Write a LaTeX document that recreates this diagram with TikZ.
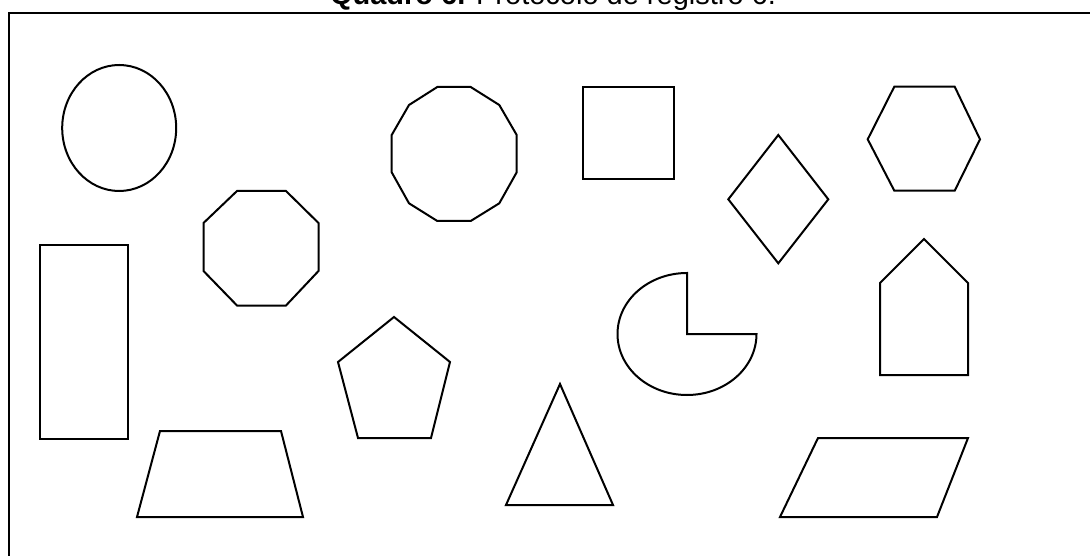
\documentclass[tikz,border=0pt]{standalone}
\usepackage{fontspec}
\setmainfont{Liberation Sans}
\begin{document}
\begin{tikzpicture}[x=1pt,y=-1pt,
  shp/.style={draw=black,line width=2pt,line join=miter},
  frame/.style={draw=black,line width=2pt}]
\useasboundingbox (0,0) rectangle (1090,556);
% title (cut off at top, as in the reference)
\node[anchor=base,font=\fontsize{29}{30}\selectfont,inner sep=0pt] (title) at (553,5) {\textbf{Quadro 6.} Protocolo de registro 6.};
% frame
\draw[frame] (9,600) -- (9,13) -- (1100,13);
% ellipse
\draw[shp] (119.2,128) ellipse [x radius=57,y radius=63];
% tall rectangle
\draw[shp] (40,245.3) rectangle (127.7,439.3);
% octagon
\draw[shp] (237,191) -- (286,191) -- (318.5,223) -- (318.5,271) -- (286,305.5) -- (237,305.5) -- (203.5,271) -- (203.5,223) -- cycle;
% dodecagon
\draw[shp] (437.3,87) -- (470.7,87) -- (499.3,105) -- (516.7,135) -- (516.7,172.3) -- (499.3,203.3) -- (470.7,221) -- (437.3,221) -- (409,203.3) -- (391.7,172.3) -- (391.7,135) -- (409,105) -- cycle;
% square
\draw[shp] (582.7,87.3) rectangle (674.3,178.7);
% diamond
\draw[shp] (778.3,135) -- (828.3,199.3) -- (778.3,263.3) -- (728.3,199.3) -- cycle;
% hexagon
\draw[shp] (894.3,86.7) -- (954.7,86.7) -- (980,139.3) -- (954.7,190.7) -- (894.3,190.7) -- (867.7,139.3) -- cycle;
% pentagon
\draw[shp] (394,317) -- (450,362) -- (431,438) -- (358,438) -- (338,362) -- cycle;
% triangle
\draw[shp] (560,384) -- (613,505) -- (506,505) -- cycle;
% pacman (three-quarter ellipse, upper-right quadrant missing)
\draw[shp] (687,334) -- (687,273) arc[start angle=-90,end angle=-360,x radius=69.5,y radius=61] -- cycle;
% house
\draw[shp] (924,239) -- (968,283) -- (968,375) -- (880,375) -- (880,283) -- cycle;
% trapezoid
\draw[shp] (160,431) -- (281,431) -- (303,517) -- (137,517) -- cycle;
% parallelogram
\draw[shp] (818,438) -- (968,438) -- (937,517) -- (780,517) -- cycle;
\end{tikzpicture}
\end{document}
